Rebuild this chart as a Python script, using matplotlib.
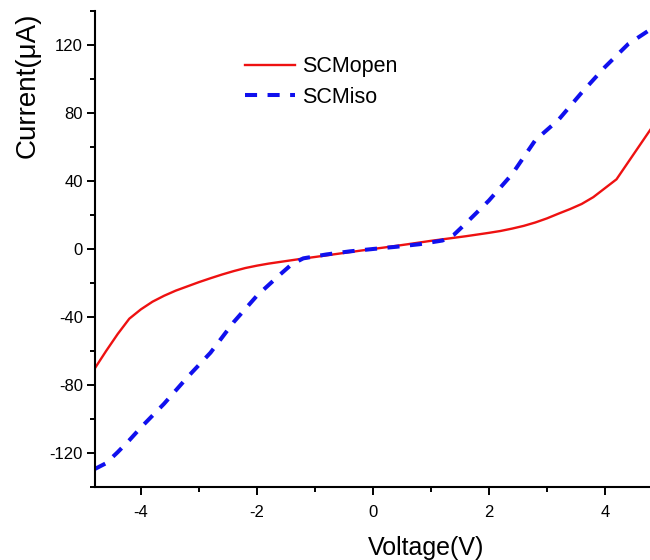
import matplotlib
matplotlib.use("Agg")
import matplotlib.pyplot as plt
from matplotlib.ticker import MultipleLocator

plt.rcParams['font.family'] = ['Liberation Sans', 'DejaVu Sans']
plt.rcParams['axes.unicode_minus'] = False

# I-V sweep data (voltage in V, current in uA)
voltage_open = [-4.8, -4.6, -4.4, -4.2, -4.0, -3.8, -3.6, -3.4, -3.2, -3.0, -2.8, -2.6,
                -2.4, -2.2, -2.0, -1.8, -1.6, -1.4, -1.2, -1.0, -0.6, -0.2, 0.2, 0.6,
                1.0, 1.2, 1.4, 1.6, 1.8, 2.0, 2.2, 2.4, 2.6, 2.8, 3.0, 3.2, 3.4, 3.6,
                3.8, 4.2, 4.4, 4.6, 4.8]
current_open = [-70.5, -60.0, -50.0, -41.0, -35.5, -31.0, -27.5, -24.5, -22.0, -19.5, -17.2, -15.0,
                -13.0, -11.2, -9.8, -8.6, -7.6, -6.6, -5.6, -4.7, -2.8, -0.9, 0.9, 2.8,
                4.8, 5.7, 6.6, 7.5, 8.5, 9.5, 10.6, 12.0, 13.6, 15.6, 18.0, 20.8, 23.5, 26.5,
                30.5, 41.0, 51.0, 61.0, 71.0]

voltage_iso = [-4.8, -4.6, -4.4, -4.2, -4.0, -3.6, -3.2, -2.8, -2.4, -2.0, -1.6,
               -1.4, -1.2, -0.8, -0.4, 0.0, 0.4, 0.8, 1.2, 1.4, 1.6, 2.0,
               2.4, 2.8, 3.2, 3.6, 4.0, 4.4, 4.8]
current_iso = [-129.5, -126.0, -119.5, -112.5, -105.0, -91.0, -75.5, -61.0, -43.0, -27.5, -15.0,
               -9.0, -5.5, -3.2, -1.4, 0.0, 1.3, 2.8, 5.0, 8.5, 15.0, 28.5,
               44.0, 64.0, 76.0, 92.0, 107.0, 120.5, 129.5]

series_labels = ["SCMopen", "SCMiso"]
x_ticks = [-4, -2, 0, 2, 4]
y_ticks = [-120, -80, -40, 0, 40, 80, 120]

W, H = 650, 560
fig = plt.figure(figsize=(W / 100, H / 100), dpi=100)
left, bottom, top = 94.5, 487, 11
ax = fig.add_axes([left / W, (H - bottom) / H, (W - left) / W, (bottom - top) / H])

ax.plot(voltage_open, current_open, color="#ee1111", lw=1.7, label=series_labels[0])
ax.plot(voltage_iso, current_iso, color="#1010ee", lw=2.9, ls=(0, (3.0, 2.6)),
        label=series_labels[1])

ax.set_xlim(-4.8, -4.8 + (W - left) / 58.0)
ax.set_ylim(-140, 140)
ax.set_xticks(x_ticks)
ax.set_yticks(y_ticks)
ax.xaxis.set_minor_locator(MultipleLocator(1))
ax.yaxis.set_minor_locator(MultipleLocator(20))

for side in ("top", "right"):
    ax.spines[side].set_visible(False)
for side in ("left", "bottom"):
    ax.spines[side].set_linewidth(1.5)

ax.tick_params(which="major", length=5.8, width=1.4, labelsize=12)
ax.tick_params(which="minor", length=3.6, width=1.4)
ax.tick_params(axis="x", which="major", pad=7)
ax.tick_params(axis="y", which="major", pad=2.5)

fig.text(27.5 / W, 1 - 85 / H, "Current(\u03bcA)", rotation=90, ha="center", va="center",
         fontsize=20)
fig.text(426.5 / W, 5 / H, "Voltage(V)", ha="center", va="baseline", fontsize=18)

leg = ax.legend(loc="center left", bbox_to_anchor=(245 / W, 1 - 82 / H),
                bbox_transform=fig.transFigure, frameon=False, fontsize=15.5,
                handlelength=2.3, handletextpad=0.35, labelspacing=0.42,
                borderpad=0, borderaxespad=0)

fig.savefig("out.png", dpi=100)
